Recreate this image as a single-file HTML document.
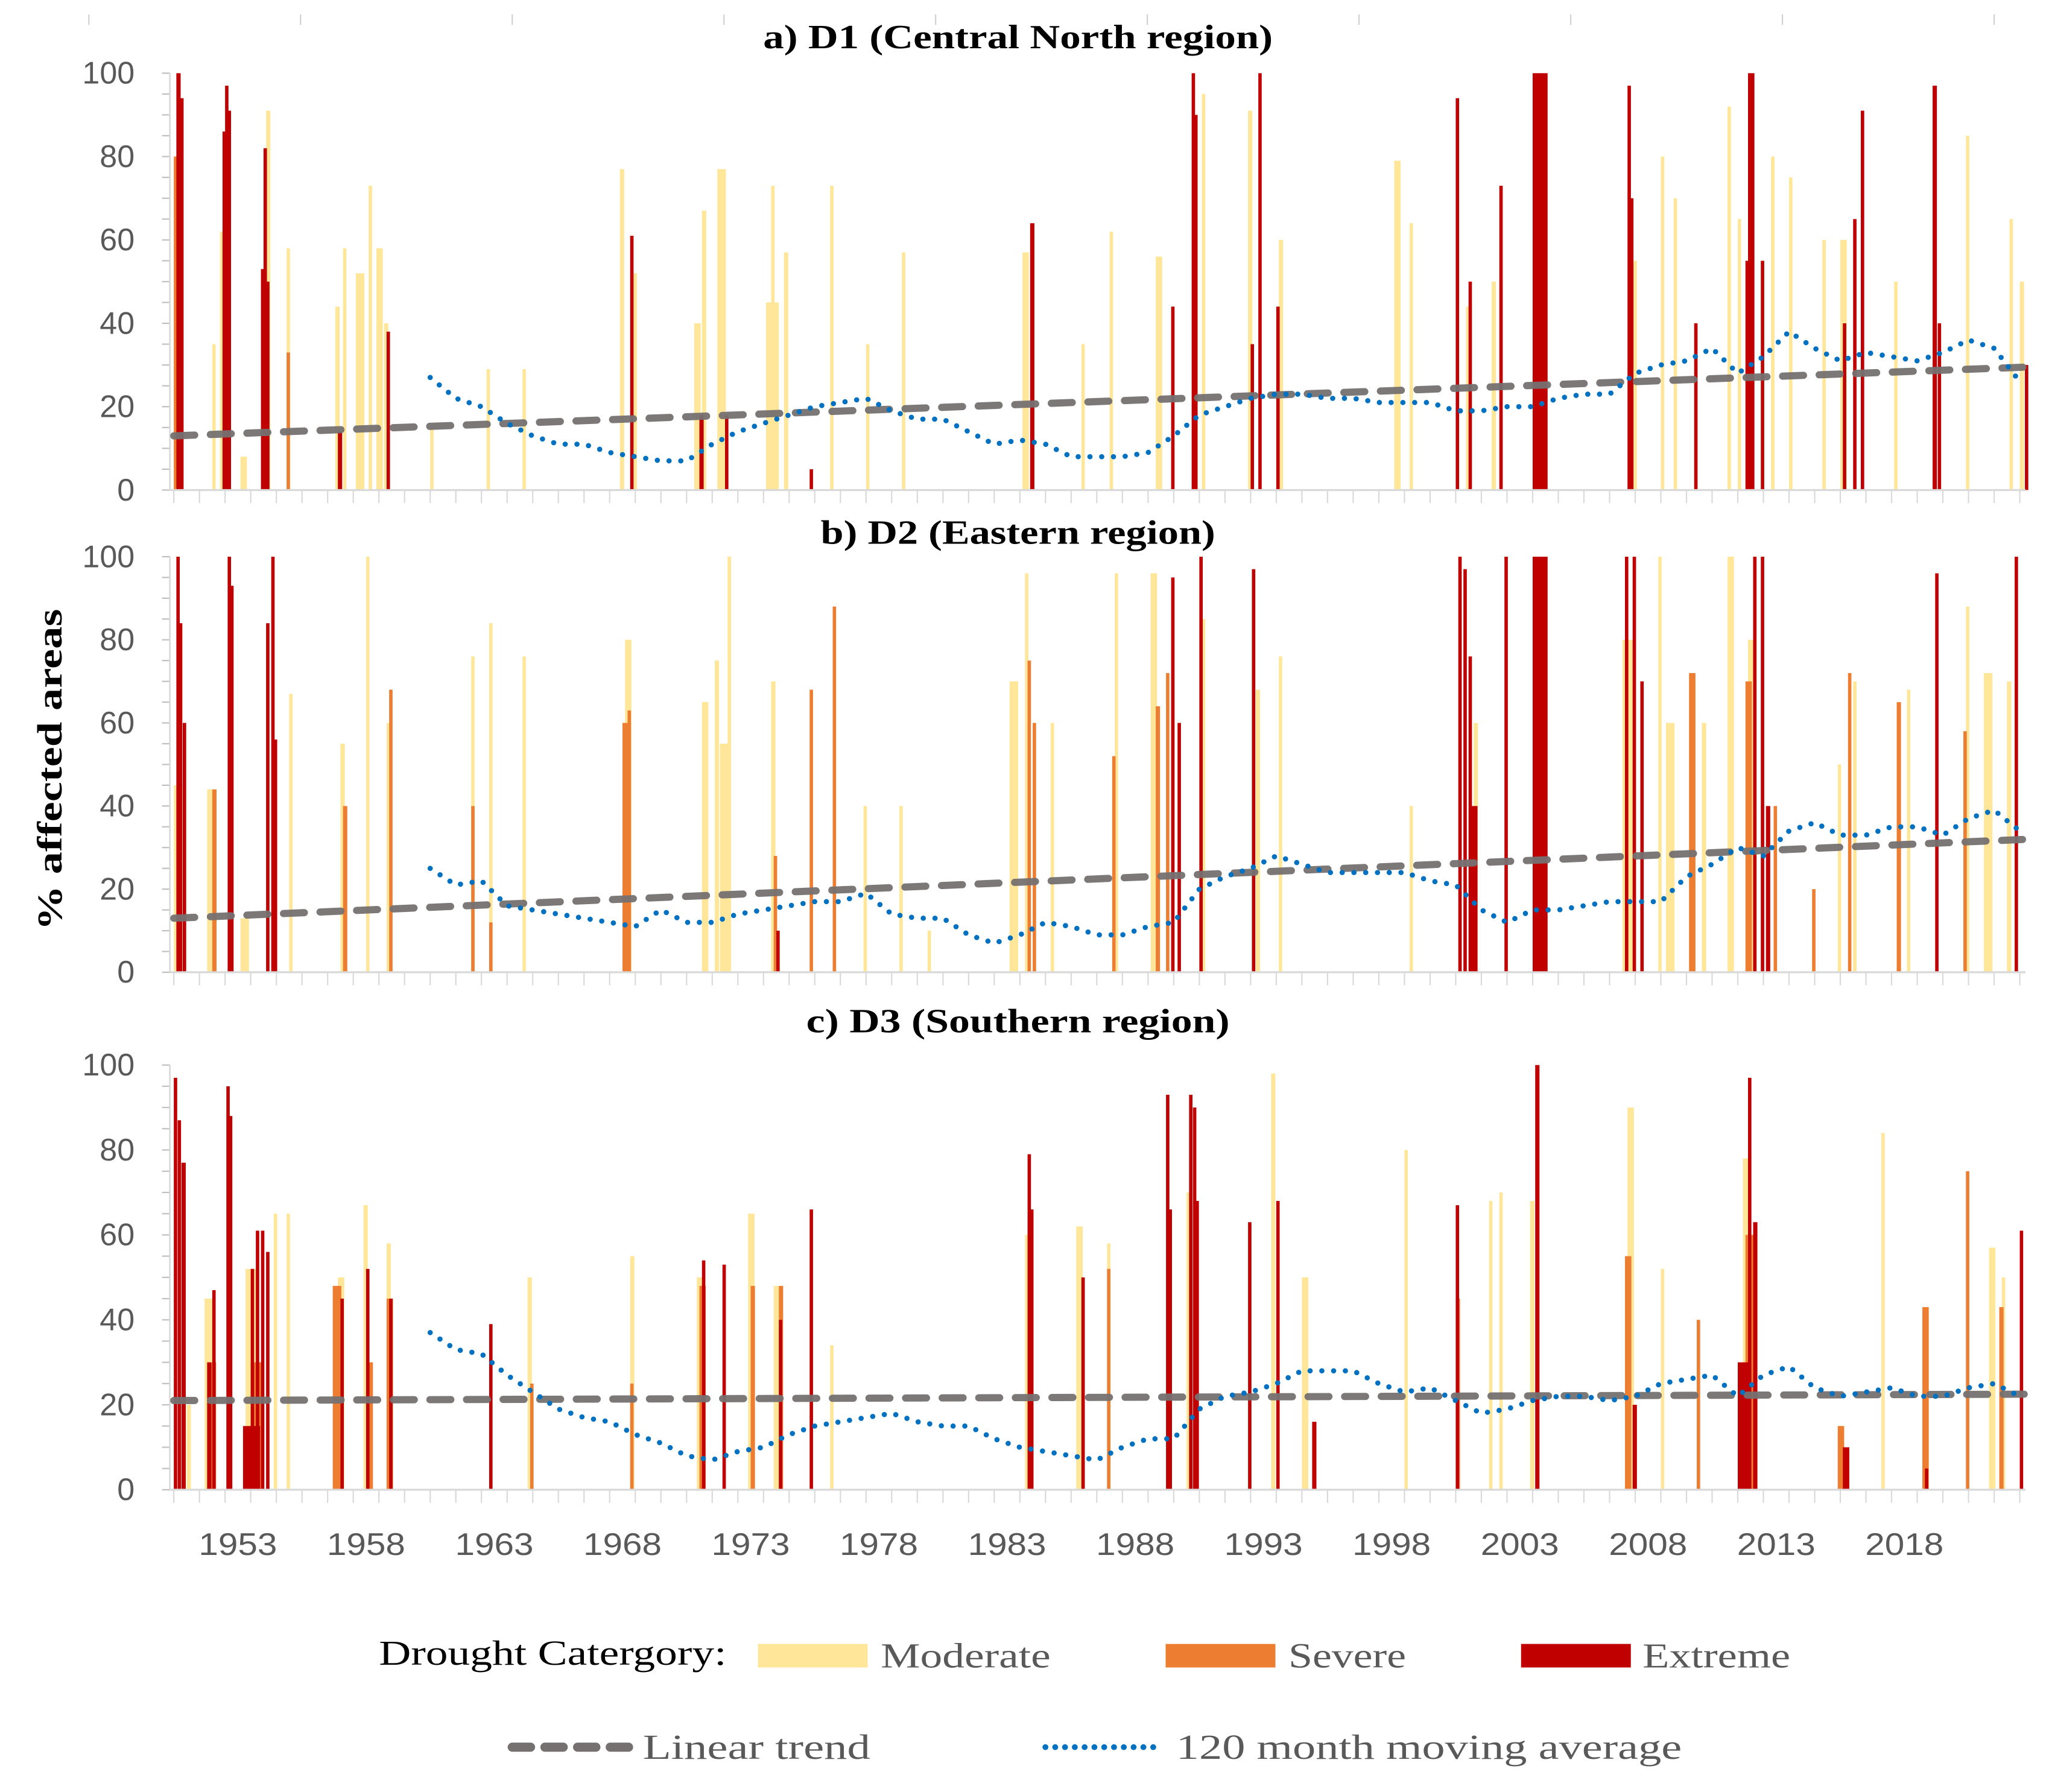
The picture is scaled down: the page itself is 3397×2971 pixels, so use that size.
<!DOCTYPE html>
<html><head><meta charset="utf-8"><style>
html,body{margin:0;padding:0;background:#fff;}
svg{display:block;}
</style></head><body>
<svg id="chart" width="3397" height="2971" viewBox="0 0 1568 1371.3" preserveAspectRatio="none" xmlns="http://www.w3.org/2000/svg">
<g id="top-ticks"></g>
<g id="panels"></g>
<text transform="translate(47,589) rotate(-90)" text-anchor="middle" font-family="Liberation Serif, serif" font-weight="bold" font-size="27" textLength="246" lengthAdjust="spacingAndGlyphs" fill="#000">% affected areas</text>
<g id="xlabels"></g>
<g>
<text x="290" y="1274" font-family="Liberation Serif, serif" font-size="27" textLength="266" lengthAdjust="spacingAndGlyphs" fill="#000">Drought Catergory:</text>
<rect x="580" y="1258" width="84" height="18" fill="#FFE699"/>
<text x="674" y="1276" font-family="Liberation Serif, serif" font-size="27" textLength="130" lengthAdjust="spacingAndGlyphs" fill="#595959">Moderate</text>
<rect x="892" y="1258" width="84" height="18" fill="#ED7D31"/>
<text x="986" y="1276" font-family="Liberation Serif, serif" font-size="27" textLength="90" lengthAdjust="spacingAndGlyphs" fill="#595959">Severe</text>
<rect x="1164" y="1258" width="84" height="18" fill="#C00000"/>
<text x="1257" y="1276" font-family="Liberation Serif, serif" font-size="27" textLength="113" lengthAdjust="spacingAndGlyphs" fill="#595959">Extreme</text>
<line x1="392" y1="1337" x2="484" y2="1337" stroke="#767171" stroke-width="7" stroke-linecap="round" stroke-dasharray="14 11"/>
<text x="492" y="1346" font-family="Liberation Serif, serif" font-size="27" textLength="174" lengthAdjust="spacingAndGlyphs" fill="#595959">Linear trend</text>
<line x1="800" y1="1337" x2="888" y2="1337" stroke="#0070C0" stroke-width="4.5" stroke-linecap="round" stroke-dasharray="0 7.5"/>
<text x="900" y="1346" font-family="Liberation Serif, serif" font-size="27" textLength="387" lengthAdjust="spacingAndGlyphs" fill="#595959">120 month moving average</text>
</g>
</svg>
<script>
// ---- data: bars as [year, months, value] ----
const aModerate=[[1950.0,4,30],[1951.5,1,35],[1951.8,2,62],[1952.6,3,8],[1953.6,2,91],[1954.4,1,58],[1956.3,2,44],[1956.6,1,58],[1957.1,4,52],[1957.6,1,73],[1957.9,3,58],[1958.2,2,40],[1960.0,1,15],[1962.2,1,29],[1963.6,1,29],[1967.4,2,77],[1967.9,2,52],[1970.3,3,40],[1970.6,2,67],[1971.2,4,77],[1973.1,6,45],[1973.3,1,73],[1973.8,2,57],[1975.6,1,73],[1977.0,1,35],[1978.4,1,57],[1983.1,3,57],[1985.4,1,35],[1986.5,1,62],[1988.3,3,56],[1990.1,1,95],[1991.9,2,91],[1993.1,2,60],[1997.6,3,79],[1998.2,1,64],[2000.4,2,44],[2001.4,2,50],[2003.0,6,60],[2006.9,2,55],[2008.0,1,80],[2008.5,1,70],[2010.6,1,92],[2011.0,1,65],[2012.3,1,80],[2013.0,1,75],[2014.3,1,60],[2015.0,3,60],[2017.1,1,50],[2019.9,1,85],[2021.6,1,65],[2022.0,2,50]];
const aSevere=[[1950.0,2,80],[1953.4,2,53],[1954.4,1,33],[2003.1,3,40]];
const aExtreme=[[1950.1,2,100],[1950.25,1,94],[1951.9,1,86],[1952.0,1,97],[1952.1,1,91],[1953.4,1,53],[1953.5,1,82],[1953.6,1,50],[1956.4,2,14],[1958.3,1,38],[1967.8,1,61],[1970.5,2,18],[1971.5,1,18],[1974.8,1,5],[1983.4,2,64],[1988.9,1,44],[1989.7,1,100],[1989.8,1,90],[1992.0,1,35],[1992.3,1,100],[1993.0,1,44],[2000.0,1,94],[2000.5,1,50],[2001.7,1,73],[2003.0,7,100],[2006.7,1,97],[2006.8,1,70],[2009.3,1,40],[2011.4,3,100],[2011.3,1,55],[2011.9,1,55],[2015.1,1,40],[2015.5,1,65],[2015.8,1,91],[2018.6,2,97],[2018.8,1,40],[2022.2,1,30]];
const bModerate=[[1950.0,4,45],[1951.3,4,44],[1952.6,4,13],[1954.5,1,67],[1956.5,2,55],[1957.5,1,100],[1958.3,2,60],[1961.6,1,76],[1962.3,1,84],[1963.6,1,76],[1967.6,3,80],[1970.6,3,65],[1971.1,2,75],[1971.6,1,100],[1971.3,5,55],[1973.3,2,70],[1976.9,1,40],[1978.3,1,40],[1979.4,1,10],[1982.6,4,70],[1983.2,1,96],[1984.2,1,60],[1986.7,1,96],[1988.1,3,96],[1990.1,1,85],[1992.2,2,68],[1993.1,1,76],[1998.2,1,40],[2000.7,2,60],[2006.5,6,80],[2007.9,1,100],[2008.2,4,60],[2009.6,2,60],[2010.6,3,100],[2011.4,4,80],[2014.9,1,50],[2015.5,1,70],[2017.6,1,68],[2019.9,1,88],[2020.6,4,72],[2021.5,2,70]];
const bSevere=[[1951.5,2,44],[1956.6,2,40],[1958.4,1,68],[1961.6,1,40],[1962.3,1,12],[1967.5,4,60],[1967.7,1,63],[1973.4,1,28],[1974.8,1,68],[1975.7,1,88],[1983.3,1,75],[1983.5,1,60],[1986.6,1,52],[1988.3,2,64],[1988.7,1,72],[2009.1,3,72],[2011.3,3,70],[2012.4,1,40],[2013.9,1,20],[2015.3,1,72],[2017.2,2,65],[2019.8,1,58]];
const bExtreme=[[1950.1,1,100],[1950.2,1,84],[1950.35,1,60],[1952.1,1,100],[1952.2,1,93],[1953.6,1,84],[1953.8,1,100],[1953.9,1,56],[1973.5,1,10],[1988.9,1,95],[1989.15,1,60],[1990.0,1,100],[1992.05,1,97],[2000.1,1,100],[2000.3,1,97],[2000.5,1,76],[2000.6,3,40],[2001.9,1,100],[2003.0,7,100],[2006.6,1,100],[2006.9,1,100],[2007.2,1,70],[2011.6,1,100],[2011.9,1,100],[2012.1,2,40],[2018.7,1,96],[2021.8,1,100]];
const cModerate=[[1950.5,2,20],[1951.2,4,45],[1952.8,6,52],[1953.9,1,65],[1954.4,1,65],[1956.4,3,50],[1957.4,2,67],[1958.3,2,58],[1963.8,2,50],[1967.8,2,55],[1970.4,3,50],[1972.4,3,65],[1973.4,3,48],[1975.6,1,34],[1983.2,2,60],[1985.2,3,62],[1986.4,1,58],[1989.5,2,70],[1992.8,2,98],[1994.0,3,50],[1998.0,1,80],[2001.3,1,68],[2001.7,1,70],[2002.9,2,68],[2006.7,3,90],[2008.0,1,52],[2011.2,3,78],[2016.6,1,84],[2020.8,3,57],[2021.3,1,50]];
const cSevere=[[1951.4,3,30],[1953.0,5,30],[1956.2,4,48],[1957.6,2,30],[1958.3,3,45],[1963.9,1,25],[1967.8,1,25],[1970.5,3,48],[1972.5,2,48],[1973.6,2,48],[1986.4,1,52],[2000.0,2,45],[2006.6,3,55],[2009.4,1,40],[2011.3,4,60],[2014.9,3,15],[2018.2,3,43],[2019.9,1,75],[2021.2,2,43]];
const cExtreme=[[1950.0,1,97],[1950.15,1,87],[1950.3,2,77],[1951.3,2,30],[1951.5,1,47],[1952.05,1,95],[1952.15,1,88],[1952.7,8,15],[1953.2,1,61],[1953.4,1,61],[1953.0,1,52],[1953.6,1,56],[1956.5,1,45],[1957.5,1,52],[1958.4,1,45],[1962.3,1,39],[1970.6,1,54],[1971.4,1,53],[1973.6,1,40],[1974.8,1,66],[1983.3,1,79],[1983.4,1,66],[1985.4,1,50],[1988.7,1,93],[1988.8,1,66],[1989.6,1,93],[1989.75,1,90],[1989.85,1,68],[1991.9,1,63],[1993.0,1,68],[1994.4,2,16],[2000.0,1,67],[2003.1,2,100],[2006.9,2,20],[2011.4,1,97],[2011.6,2,63],[2011.0,6,30],[2015.1,3,10],[2018.3,1,5],[2022.0,1,61]];
// moving average, yearly samples starting 1960
const maStartYear=1960;
const aMA=[27,22,20,16,13,11,11,9,8,7,7,11,14,16,18,20,21,22,19,17,17,14,11,12,11,8,8,8,9,13,18,20,22,23,23,22,22,21,21,21,19,19,20,20,22,23,23,28,30,31,34,28,32,38,34,31,33,32,31,33,36,34,26];
const bMA=[25,21,22,16,15,14,13,12,11,15,12,12,14,15,16,17,17,19,14,13,13,9,7,9,12,11,9,9,11,12,20,23,25,28,26,24,24,24,24,22,21,15,12,15,15,16,17,17,17,23,26,30,28,34,36,33,33,35,35,33,37,39,34];
const cMA=[37,33,32,27,23,19,17,16,13,11,8,7,9,10,13,15,16,17,18,16,15,15,12,10,9,8,7,10,12,12,19,22,23,25,28,28,28,25,23,24,21,18,19,21,22,22,21,22,25,26,27,22,27,29,24,22,23,24,22,22,24,25,22];
// linear trend [start value 1950, end value 2022.3]
const aTrend=[13,29.5];
const bTrend=[13,32];
const cTrend=[21,22.5];
const yTicks=[0,20,40,60,80,100];
const yearLabels=[1953,1958,1963,1968,1973,1978,1983,1988,1993,1998,2003,2008,2013,2018];
const panelTitles=["a) D1 (Central North region)","b) D2 (Eastern region)","c) D3 (Southern region)"];
const titleWidths=[390,302,324];

const NS="http://www.w3.org/2000/svg";
const X0=133, PX=19.62, XEND=1550;
function xs(t){return X0+(t-1950)*PX;}
function mk(tag,attrs,parent){const e=document.createElementNS(NS,tag);for(const k in attrs)e.setAttribute(k,attrs[k]);parent.appendChild(e);return e;}
const panels=[
 {y0:375,y100:56,titleY:37,mod:aModerate,sev:aSevere,ext:aExtreme,ma:aMA,tr:aTrend,key:"a"},
 {y0:744,y100:426,titleY:416,mod:bModerate,sev:bSevere,ext:bExtreme,ma:bMA,tr:bTrend,key:"b"},
 {y0:1140,y100:815,titleY:790,mod:cModerate,sev:cSevere,ext:cExtreme,ma:cMA,tr:cTrend,key:"c"}
];
const root=document.getElementById('panels');
panels.forEach((p,pi)=>{
 const g=mk('g',{},root);
 
 
 const ys=v=>p.y0-(v/100)*(p.y0-p.y100);
 const tt=mk('text',{x:779,y:p.titleY,'text-anchor':'middle','font-family':'Liberation Serif, serif','font-weight':'bold','font-size':'26',textLength:titleWidths[pi],lengthAdjust:'spacingAndGlyphs',fill:'#000'},g);
 tt.textContent=panelTitles[pi];
 
 
 for(let v=0;v<=100;v+=5){
  const tk=mk('line',{x1:124,x2:130,y1:ys(v),y2:ys(v),stroke:'#bfbfbf','stroke-width':1},g);
  
  
 }
 yTicks.forEach(v=>{
  const t=mk('text',{x:103,y:ys(v)+8,'text-anchor':'end','font-family':'Liberation Sans, sans-serif','font-size':'24',fill:'#595959'},g);
  t.textContent=v;
  
  
 });
 const ax=mk('line',{x1:130,x2:130,y1:p.y100,y2:p.y0,stroke:'#d9d9d9','stroke-width':1.2},g);
 
 
 [[p.mod,'#FFE699','moderate'],[p.sev,'#ED7D31','severe'],[p.ext,'#C00000','extreme']].forEach(([arr,col,nm])=>{
  arr.forEach(d=>{
   const w=Math.max(d[1]*PX/12,2.6);
   const r=mk('rect',{x:xs(d[0]),y:ys(d[2]),width:w,height:p.y0-ys(d[2]),fill:col},g);
   
   
  });
 });
 const xa=mk('line',{x1:130,x2:XEND,y1:p.y0,y2:p.y0,stroke:'#d9d9d9','stroke-width':1.5},g);
 
 
 for(let yr=1950;yr<=2022;yr++){
  const tk=mk('line',{x1:xs(yr),x2:xs(yr),y1:p.y0,y2:p.y0+10,stroke:'#d9d9d9','stroke-width':1},g);
  
  
 }
 const tl=mk('line',{x1:xs(1950),y1:ys(p.tr[0]),x2:xs(2022.3),y2:ys(p.tr[1]),stroke:'#767171','stroke-width':5.5,'stroke-linecap':'round','stroke-dasharray':'16 12',opacity:0.95},g);
 
 
 const pts=p.ma.map((v,i)=>xs(maStartYear+i)+','+ys(v)).join(' ');
 const ml=mk('polyline',{points:pts,fill:'none',stroke:'#0070C0','stroke-width':4,'stroke-linecap':'round','stroke-dasharray':'0 9'},g);
 
 
});
const xl=document.getElementById('xlabels');
yearLabels.forEach(yr=>{
 const t=mk('text',{x:xs(yr-0.5),y:1190,'text-anchor':'middle','font-family':'Liberation Sans, sans-serif','font-size':'24',textLength:60,lengthAdjust:'spacingAndGlyphs',fill:'#595959'},xl);
 t.textContent=yr;
 
 
});
const tt2=document.getElementById('top-ticks');
for(let x=68;x<1568;x+=162){
 const l=mk('line',{x1:x,x2:x,y1:11,y2:19,stroke:'#d0d0d0','stroke-width':1},tt2);
 
 
}
</script>
</body></html>
